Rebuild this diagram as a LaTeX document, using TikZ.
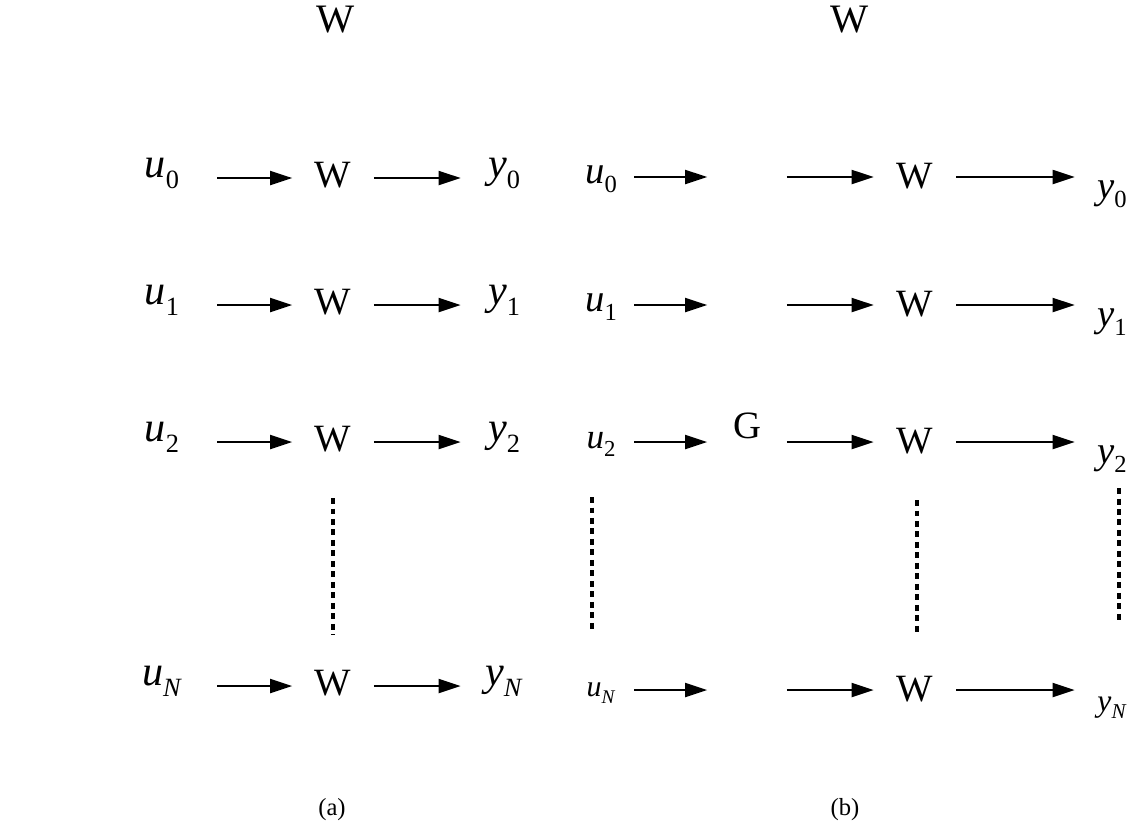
\documentclass[tikz,border=0pt]{standalone}
\usepackage{fontspec}
\setmainfont{Liberation Serif}
\usetikzlibrary{arrows.meta,positioning}

% italic symbol with a lowered index: \sgl{letter}{index}{index size}
\newcommand{\sgl}[3]{\textit{#1}\raisebox{-0.55ex}{\fontsize{#3}{#3}\selectfont #2}}

\tikzset{
  inlabel/.style={
    inner sep=0pt,
    minimum width=2.2cm,
    text height=0.45cm,
    text depth=0.47cm,
    font=\fontsize{24}{26}\selectfont
  },
  outlabel/.style={
    inner sep=0pt,
    minimum width=1.72cm,
    text height=0.45cm,
    text depth=0.47cm,
    font=\fontsize{24}{26}\selectfont
  },
  wbox/.style={
    inner sep=0pt,
    minimum width=1.62cm,
    text height=0.5cm,
    text depth=0.14cm,
    font=\fontsize{22}{24}\selectfont
  },
  binlabel/.style={
    inner sep=0pt,
    minimum width=1.32cm,
    text height=0.5cm,
    text depth=0.26cm,
    font=\fontsize{22}{24}\selectfont
  },
  gslot/.style={
    inner sep=0pt,
    minimum width=1.58cm,
    text height=0.5cm,
    text depth=0.66cm,
    font=\fontsize{22}{24}\selectfont
  },
  bwbox/.style={
    inner sep=0pt,
    minimum width=1.64cm,
    text height=0.55cm,
    text depth=0.11cm,
    font=\fontsize{22}{24}\selectfont
  },
  boutlabel/.style={
    inner sep=0pt,
    minimum width=1.48cm,
    text height=1.0cm,
    text depth=0.16cm,
    font=\fontsize{22}{24}\selectfont
  },
  toptext/.style={inner sep=0pt, font=\fontsize{23}{24}\selectfont},
  capt/.style={inner sep=0pt, font=\fontsize{14}{16}\selectfont},
  sigarrow/.style={-{Triangle[length=0.44cm,width=0.28cm]}, line width=0.04cm},
  dotline/.style={line width=0.07cm, dash pattern=on 0.12cm off 0.09cm}
}

\begin{document}
\begin{tikzpicture}[x=0.02cm, y=-0.02cm]
  \useasboundingbox (0,0) rectangle (1138,836);

  % (a) every channel through its own W
  \node[toptext] (ta) at (336,20) {W};
  \node[inlabel] (ua0) at (162,178) {\sgl{u}{0}{15}};
  \node[wbox] (wa0) at (333,178) {W};
  \node[outlabel] (ya0) at (504,178) {\sgl{y}{0}{15}};
  \node[inlabel] (ua1) at (162,305) {\sgl{u}{1}{15}};
  \node[wbox] (wa1) at (333,305) {W};
  \node[outlabel] (ya1) at (504,305) {\sgl{y}{1}{15}};
  \node[inlabel] (ua2) at (162,442) {\sgl{u}{2}{15}};
  \node[wbox] (wa2) at (333,442) {W};
  \node[outlabel] (ya2) at (504,442) {\sgl{y}{2}{15}};
  \node[inlabel] (uaN) at (162,686) {\sgl{u}{\textit{N}}{15}};
  \node[wbox] (waN) at (333,686) {W};
  \node[outlabel] (yaN) at (504,686) {\sgl{y}{\textit{N}}{15}};
  \draw[sigarrow] (ua0) -- (wa0);
  \draw[sigarrow] (wa0) -- (ya0);
  \draw[sigarrow] (ua1) -- (wa1);
  \draw[sigarrow] (wa1) -- (ya1);
  \draw[sigarrow] (ua2) -- (wa2);
  \draw[sigarrow] (wa2) -- (ya2);
  \draw[sigarrow] (uaN) -- (waN);
  \draw[sigarrow] (waN) -- (yaN);
  \draw[dotline,shorten <=1.12cm,shorten >=1.02cm] (wa2.center) -- (waN.center);
  \node[capt] (capa) at (332,810) {(a)};

  % (b) G in front of the W blocks
  \node[toptext] (tb) at (850,20) {W};
  \node[binlabel] (ub0) at (601,177) {\sgl{u}{0}{14}};
  \node[gslot] (gb0) at (747,177) {};
  \node[bwbox] (wb0) at (915,177) {W};
  \node[boutlabel] (yb0) at (1112,177) {\sgl{y}{0}{14}};
  \node[binlabel] (ub1) at (601,305) {\sgl{u}{1}{14}};
  \node[gslot] (gb1) at (747,305) {};
  \node[bwbox] (wb1) at (915,305) {W};
  \node[boutlabel] (yb1) at (1112,305) {\sgl{y}{1}{14}};
  \node[binlabel,font=\fontsize{20}{24}\selectfont] (ub2) at (601,442) {\sgl{u}{2}{13}};
  \node[gslot] (gb2) at (747,442) {G};
  \node[bwbox] (wb2) at (915,442) {W};
  \node[boutlabel] (yb2) at (1112,442) {\sgl{y}{2}{14}};
  \node[binlabel,font=\fontsize{17}{24}\selectfont] (ubN) at (601,690) {\sgl{u}{\textit{N}}{11}};
  \node[gslot] (gbN) at (747,690) {};
  \node[bwbox] (wbN) at (915,690) {W};
  \node[boutlabel,font=\fontsize{18}{24}\selectfont] (ybN) at (1112,690) {\sgl{y}{\textit{N}}{12}};
  \draw[sigarrow] (ub0) -- (gb0);
  \draw[sigarrow] (gb0) -- (wb0);
  \draw[sigarrow] (wb0) -- (yb0);
  \draw[sigarrow] (ub1) -- (gb1);
  \draw[sigarrow] (gb1) -- (wb1);
  \draw[sigarrow] (wb1) -- (yb1);
  \draw[sigarrow] (ub2) -- (gb2);
  \draw[sigarrow] (gb2) -- (wb2);
  \draw[sigarrow] (wb2) -- (yb2);
  \draw[sigarrow] (ubN) -- (gbN);
  \draw[sigarrow] (gbN) -- (wbN);
  \draw[sigarrow] (wbN) -- (ybN);
  \draw[dotline,shorten <=1.1cm,shorten >=1.2cm] ([xshift=-0.18cm]ub2.center) -- ([xshift=-0.18cm]ubN.center);
  \draw[dotline,shorten <=1.16cm,shorten >=1.14cm] ([xshift=0.04cm]wb2.center) -- ([xshift=0.04cm]wbN.center);
  \draw[dotline,shorten <=0.92cm,shorten >=1.36cm] ([xshift=0.14cm]yb2.center) -- ([xshift=0.14cm]ybN.center);
  \node[capt] (capb) at (845,810) {(b)};
\end{tikzpicture}
\end{document}
